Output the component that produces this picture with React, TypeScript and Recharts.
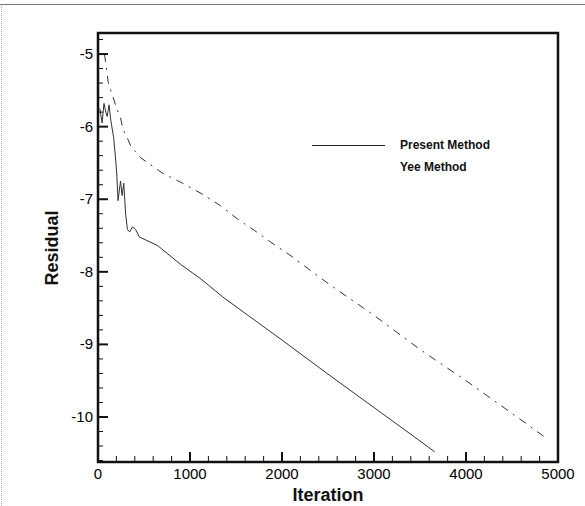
import { LineChart, Line, XAxis, YAxis, ReferenceArea } from 'recharts';

// chart layout (pixels)
const CHART_W = 585;
const CHART_H = 506;
const Y_AXIS_W = 98;
const X_AXIS_H = 44;
const MARGIN = { top: 33, right: 27, left: 0, bottom: 0 };
const PLOT_LEFT = MARGIN.left + Y_AXIS_W;
const PLOT_BOTTOM = CHART_H - MARGIN.bottom - X_AXIS_H;

const FONT = '"Liberation Sans", Arial, Helvetica, sans-serif';
const INK = '#111';

// axis ticks
const X_MAJOR = [0, 1000, 2000, 3000, 4000, 5000];
const X_MINOR_STEP = 200;
const Y_MAJOR = [-10, -9, -8, -7, -6, -5];
const Y_MINOR_STEP = 0.2;
const X_DOMAIN: [number, number] = [0, 5000];
const Y_DOMAIN: [number, number] = [-10.62, -4.71];

// residual history
const PRESENT_ITER = [20, 45, 65, 85, 100, 120, 140, 170, 195, 205, 218, 245, 262, 280, 300, 320, 345, 375, 410, 450, 650, 900, 1120, 1370, 2000, 2500, 3000, 3500, 3660];
const PRESENT_RES = [-5.75, -5.95, -5.68, -5.8, -5.86, -5.7, -5.92, -6.15, -6.5, -6.68, -7.02, -6.75, -6.95, -6.78, -7.2, -7.42, -7.45, -7.38, -7.42, -7.52, -7.64, -7.9, -8.1, -8.36, -8.94, -9.41, -9.87, -10.33, -10.48];

const YEE_ITER = [70, 90, 110, 130, 165, 200, 245, 270, 320, 360, 420, 466, 700, 920, 1120, 1320, 1515, 1700, 1910, 2075, 2500, 3000, 3500, 4000, 4500, 4860];
const YEE_RES = [-5.0, -5.17, -5.38, -5.47, -5.6, -5.74, -5.88, -6.03, -6.16, -6.28, -6.36, -6.43, -6.64, -6.78, -6.92, -7.08, -7.27, -7.43, -7.62, -7.76, -8.16, -8.6, -9.07, -9.5, -9.95, -10.28];

const presentData = PRESENT_ITER.map((it, i) => ({ it, r: PRESENT_RES[i] }));
const yeeData = YEE_ITER.map((it, i) => ({ it, r: YEE_RES[i] }));

function withMinor(major: number[], step: number, lo: number, hi: number): number[] {
  const out: number[] = [];
  const start = Math.ceil((lo + 1e-9) / step);
  const end = Math.floor((hi - 1e-9) / step);
  for (let k = start; k <= end; k++) out.push(Math.round(k * step * 10) / 10);
  major.forEach((m) => { if (!out.includes(m)) out.push(m); });
  return out.sort((a, b) => a - b);
}

const xTicks = withMinor(X_MAJOR, X_MINOR_STEP, X_DOMAIN[0], X_DOMAIN[1] + 1);
const yTicks = withMinor(Y_MAJOR, Y_MINOR_STEP, Y_DOMAIN[0], Y_DOMAIN[1]);

function XTick(props: any) {
  const { x, payload } = props;
  const major = X_MAJOR.includes(payload.value);
  return (
    <g>
      <line x1={x} x2={x} y1={PLOT_BOTTOM} y2={PLOT_BOTTOM - (major ? 10 : 6)} stroke={INK} strokeWidth={major ? 2 : 1} />
      {major && (
        <text x={x} y={PLOT_BOTTOM + 17} textAnchor="middle" fontFamily={FONT} fontSize={15} fill="#000">
          {payload.value}
        </text>
      )}
    </g>
  );
}

function YTick(props: any) {
  const { y, payload } = props;
  const major = Y_MAJOR.some((m) => Math.abs(m - payload.value) < 1e-6);
  return (
    <g>
      <line x1={PLOT_LEFT} x2={PLOT_LEFT + (major ? 10 : 5)} y1={y} y2={y} stroke={INK} strokeWidth={major ? 2 : 1} />
      {major && (
        <text x={PLOT_LEFT - 5} y={y} dy={5} textAnchor="end" fontFamily={FONT} fontSize={15} fill="#000">
          {payload.value}
        </text>
      )}
    </g>
  );
}

const legendText = { fontFamily: FONT, fontSize: 12, fontWeight: 'bold' as const, color: INK, lineHeight: '14px' };

export default function App() {
  return (
    <div style={{ position: 'absolute', left: 0, top: 0, width: CHART_W, height: CHART_H, background: '#fff' }}>
      <div style={{ position: 'absolute', left: 0, top: 4, width: CHART_W, height: 0, borderTop: '1.5px solid #777' }} />
      <div style={{ position: 'absolute', left: 1, top: 4, width: 0, height: CHART_H - 4, borderLeft: '1px dotted #aaa' }} />
      <LineChart width={CHART_W} height={CHART_H} margin={MARGIN}>
        <XAxis
          xAxisId="bottom"
          dataKey="it"
          type="number"
          domain={X_DOMAIN}
          ticks={xTicks}
          interval={0}
          height={X_AXIS_H}
          tickSize={0}
          tick={<XTick />}
          axisLine={false}
          allowDataOverflow
          label={{ value: 'Iteration', position: 'insideBottom', offset: 5, fontFamily: FONT, fontSize: 18, fontWeight: 'bold', fill: INK }}
        />
        <YAxis
          yAxisId="left"
          type="number"
          domain={Y_DOMAIN}
          ticks={yTicks}
          interval={0}
          width={Y_AXIS_W}
          tickSize={0}
          tick={<YTick />}
          axisLine={false}
          allowDataOverflow
          label={{ value: 'Residual', angle: -90, position: 'insideLeft', offset: 52, dy: 38, fontFamily: FONT, fontSize: 18, fontWeight: 'bold', fill: INK }}
        />
        <ReferenceArea
          xAxisId="bottom"
          yAxisId="left"
          x1={X_DOMAIN[0]}
          x2={X_DOMAIN[1]}
          y1={Y_DOMAIN[0]}
          y2={Y_DOMAIN[1]}
          fill="none"
          fillOpacity={0}
          stroke={INK}
          strokeWidth={2.5}
          strokeOpacity={1}
          ifOverflow="visible"
        />
        <Line
          xAxisId="bottom"
          yAxisId="left"
          data={presentData}
          dataKey="r"
          name="Present Method"
          stroke="#333"
          strokeWidth={1}
          dot={false}
          isAnimationActive={false}
        />
        <Line
          xAxisId="bottom"
          yAxisId="left"
          data={yeeData}
          dataKey="r"
          name="Yee Method"
          stroke="#333"
          strokeWidth={1}
          strokeDasharray="8 6 2 6"
          dot={false}
          isAnimationActive={false}
        />
      </LineChart>
      <div style={{ position: 'absolute', left: 312, top: 138 }}>
        <div style={{ display: 'flex', alignItems: 'center' }}>
          <div style={{ width: 73, height: 0, borderTop: '1.2px solid #222', marginRight: 15 }} />
          <span style={legendText}>Present Method</span>
        </div>
        <div style={{ marginLeft: 88, marginTop: 5 }}>
          <span style={legendText}>Yee Method</span>
        </div>
      </div>
    </div>
  );
}
